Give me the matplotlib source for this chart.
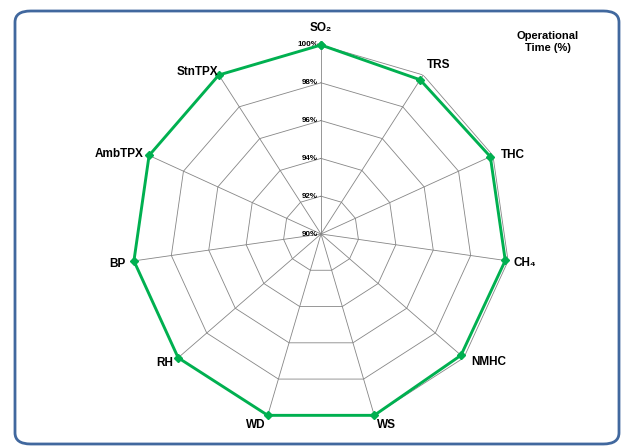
import numpy as np
import matplotlib
matplotlib.use('Agg')
import matplotlib.pyplot as plt
from matplotlib.patches import FancyBboxPatch

plt.rcParams['font.family'] = ['Liberation Sans', 'DejaVu Sans']

# data
categories = ['SO\u2082', 'TRS', 'THC', 'CH\u2084', 'NMHC', 'WS', 'WD', 'RH', 'BP', 'AmbTPX', 'StnTPX']
values = [100, 99.7, 99.85, 99.85, 99.8, 100, 100, 100, 100, 100, 100]
rticks = [90, 92, 94, 96, 98, 100]
rtick_labels = ['90%', '92%', '94%', '96%', '98%', '100%']

# label offsets in pixels from each outer vertex (dx, dy, ha, va)
label_pos = [(0, 17, 'center', 'center'), (15, 10, 'center', 'center'),
             (8, 0, 'left', 'center'), (5, -2, 'left', 'center'),
             (7, -4, 'left', 'center'), (12, -10, 'center', 'center'),
             (-12, -10, 'center', 'center'), (-5, -5, 'right', 'center'),
             (-8, -3, 'right', 'center'), (-6, 1, 'right', 'center'),
             (-21, 3, 'center', 'center')]

fig = plt.figure(figsize=(6.27, 4.47), dpi=100)

# rounded border
border = FancyBboxPatch((15 / 627, 3 / 447), 604 / 627, 433 / 447,
                        boxstyle='round,pad=0,rounding_size=0.025',
                        transform=fig.transFigure, fill=False,
                        edgecolor='#41689E', linewidth=2)
fig.patches.append(border)

cx, cy, R = 321 / 627, 1 - 234 / 447, 189
ax = fig.add_axes([cx - R / 627, cy - R / 447, 2 * R / 627, 2 * R / 447], polar=True)
ax.set_theta_zero_location('N')
ax.set_theta_direction(-1)
ax.set_ylim(90, 100)
ax.axis('off')

n = len(categories)
theta = np.arange(n) * 2 * np.pi / n
closed = np.append(theta, theta[0])

# polygon grid
for r in rticks[1:]:
    ax.plot(closed, [r] * (n + 1), color='#868686', lw=0.6, zorder=1)
for t in theta:
    ax.plot([t, t], [90, 100], color='#868686', lw=0.6, zorder=1)

# radial tick labels
for r, lab in zip(rticks, rtick_labels):
    ax.annotate(lab, xy=(0, r), xytext=(-3, 0), textcoords='offset pixels',
                ha='right', va='center', fontsize=5.8, fontweight='bold')

# data
ax.plot(closed, values + [values[0]], color='#00B050', lw=2.1, zorder=3,
        marker='D', markersize=4.5, clip_on=False)

for t, lab, (dx, dy, ha, va) in zip(theta, categories, label_pos):
    ax.annotate(lab, xy=(t, 100), xytext=(dx, dy), textcoords='offset pixels',
                ha=ha, va=va, fontsize=8.5, fontweight='bold')

fig.text(548 / 627, 1 - 42 / 447, 'Operational\nTime (%)', ha='center', va='center',
         fontsize=8, fontweight='bold', linespacing=1.3)

fig.savefig('out.png', dpi=100)
